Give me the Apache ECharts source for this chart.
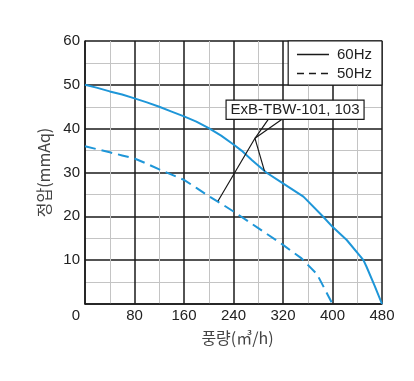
<!DOCTYPE html>
<html>
<head>
<meta charset="utf-8">
<script src="https://cdn.jsdelivr.net/npm/echarts@6/dist/echarts.min.js"></script>
<style>html,body{margin:0;padding:0;background:#fff}#c{width:414px;height:381px}</style>
</head>
<body>
<div id="c"></div>
<script>
const xTicks = [0, 80, 160, 240, 320, 400, 480];
const yTicks = [0, 10, 20, 30, 40, 50, 60];
const flow60 = [0, 20, 40, 60, 80, 100, 120, 140, 160, 180, 200, 220, 240, 253, 270, 293, 320, 353, 385, 400, 423, 450, 455, 468, 480];
const press60 = [50, 49.3, 48.5, 47.8, 46.9, 46.0, 45.0, 43.9, 42.8, 41.6, 40.1, 38.4, 36.4, 35, 32.8, 30, 27.5, 24.5, 19.9, 17.6, 14.6, 10, 8.5, 4.2, 0];
const flow50 = [0, 20, 40, 60, 80, 100, 120, 140, 160, 180, 200, 220, 240, 280, 320, 350, 375, 400];
const press50 = [36, 35.3, 34.6, 33.9, 33.2, 32.0, 30.7, 29.5, 28.3, 26.5, 24.6, 22.9, 21.1, 17.3, 13.5, 10.4, 6.8, 0];
const seriesNames = ['60Hz', '50Hz'];
const modelLabel = 'ExB-TBW-101, 103';
const labelBox = [[228, 46.5], [451, 42.1]];
const leaderA = [[296.2, 42.1], [274.7, 37.8], [215, 23.5]];
const leaderB = [[317.9, 42.1], [274.7, 37.8], [290.1, 30.3]];
const xName = '풍량(㎥/h)';
const yName = '정압(mmAq)';

const zip = (xs, ys) => xs.map((x, i) => [x, ys[i]]);
const FONT = '"Liberation Sans", Arial, "Noto Sans CJK KR", sans-serif';
const KFONT = '"Noto Sans CJK KR", "Liberation Sans", sans-serif';
const BLUE = '#1e96d8';
const DARK = '#1a1a1a';

const chart = echarts.init(document.getElementById('c'), null, {renderer: 'canvas'});
chart.setOption({
  animation: false,
  backgroundColor: '#fff',
  grid: {left: 85, top: 41, right: 32, bottom: 77},
  legend: {
    data: [
      {name: seriesNames[0], lineStyle: {color: DARK, type: 'solid', width: 1.6}, itemStyle: {opacity: 0}},
      {name: seriesNames[1], lineStyle: {color: DARK, type: [7, 5], width: 1.6}, itemStyle: {opacity: 0}}
    ],
    orient: 'vertical',
    right: 32, top: 41,
    backgroundColor: '#fff',
    borderColor: DARK, borderWidth: 1.2, borderRadius: 0,
    padding: [6, 10, 4, 8],
    itemWidth: 32, itemHeight: 14, itemGap: 4,
    textStyle: {fontFamily: FONT, fontSize: 15, color: '#222', padding: [0, 0, 0, 3]}
  },
  xAxis: {
    type: 'value', min: 0, max: 480, interval: 80,
    name: xName, nameLocation: 'middle', nameGap: 26,
    nameTextStyle: {fontFamily: KFONT, fontSize: 16, color: '#444', padding: [0, 0, 0, 8]},
    axisLine: {show: true, onZero: false, lineStyle: {color: DARK, width: 1.5}},
    axisTick: {show: false},
    axisLabel: {
      fontFamily: FONT, fontSize: 15, color: '#222', margin: 4,
      formatter: v => v === 0 ? '{z|0}' : String(v),
      rich: {z: {fontFamily: FONT, fontSize: 15, color: '#222', padding: [0, 18, 4, 0]}}
    },
    splitLine: {show: true, lineStyle: {color: DARK, width: 1.5}},
    minorTick: {show: false, splitNumber: 2},
    minorSplitLine: {show: true, lineStyle: {color: '#c4c4c4', width: 1}}
  },
  yAxis: {
    type: 'value', min: 0, max: 60, interval: 10,
    name: yName, nameLocation: 'middle', nameGap: 30,
    nameTextStyle: {fontFamily: KFONT, fontSize: 16, color: '#444'},
    axisLine: {show: true, onZero: false, lineStyle: {color: DARK, width: 1.5}},
    axisTick: {show: false},
    axisLabel: {fontFamily: FONT, fontSize: 15, color: '#222', margin: 5,
      formatter: v => v === 0 ? '' : String(v)},
    splitLine: {show: true, lineStyle: {color: DARK, width: 1.5}},
    minorTick: {show: false, splitNumber: 2},
    minorSplitLine: {show: true, lineStyle: {color: '#c4c4c4', width: 1}}
  },
  series: [
    {
      name: seriesNames[0], type: 'line', data: zip(flow60, press60),
      showSymbol: false, symbol: 'none', legendIcon: 'none',
      lineStyle: {color: BLUE, width: 2},
      itemStyle: {color: DARK},
      z: 5
    },
    {
      name: seriesNames[1], type: 'line', data: zip(flow50, press50),
      showSymbol: false, symbol: 'none', legendIcon: 'none',
      lineStyle: {color: BLUE, width: 2, type: [11, 6]},
      itemStyle: {color: DARK},
      z: 5
    },
    {
      name: 'leaderA', type: 'line', data: leaderA, symbol: 'none',
      lineStyle: {color: DARK, width: 1.2}, silent: true, z: 6
    },
    {
      name: 'leaderB', type: 'line', data: leaderB, symbol: 'none',
      lineStyle: {color: DARK, width: 1.2}, silent: true, z: 6,
      markArea: {
        silent: true,
        itemStyle: {color: '#fff', borderColor: DARK, borderWidth: 1.2},
        label: {show: true, position: 'inside', fontFamily: FONT, fontSize: 15, color: '#222'},
        data: [[{name: modelLabel, coord: labelBox[0]}, {coord: labelBox[1]}]]
      }
    }
  ]
});
</script>
</body>
</html>
